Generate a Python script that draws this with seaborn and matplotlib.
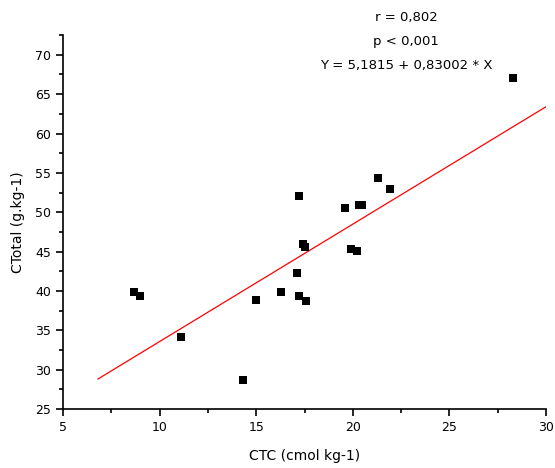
import seaborn as sns
import matplotlib.pyplot as plt
import pandas as pd

# CTC (cmol kg-1) vs CTotal (g.kg-1)
ctc = [8.7, 9.0, 11.1, 14.3, 15.0, 16.3, 17.1, 17.2, 17.2, 17.4, 17.5, 17.6,
       19.6, 19.9, 20.2, 20.3, 20.5, 21.3, 21.9, 28.3]
ctotal = [39.9, 39.3, 34.1, 28.7, 38.9, 39.9, 42.3, 52.0, 39.4, 46.0, 45.6, 38.7,
          50.5, 45.3, 45.1, 50.9, 50.9, 54.4, 53.0, 67.1]

# fitted line as drawn in the figure
fit_x = [6.8, 30.0]
fit_y = [28.8, 63.4]

stats_lines = ["r = 0,802", "p < 0,001", "Y = 5,1815 + 0,83002 * X"]

df = pd.DataFrame({"CTC": ctc, "CTotal": ctotal})
fit = pd.DataFrame({"CTC": fit_x, "CTotal": fit_y})

sns.set_style("ticks")
plt.rcParams["font.family"] = ["DejaVu Sans"]
plt.rcParams.update({"text.color": "black", "axes.labelcolor": "black",
                     "xtick.color": "black", "ytick.color": "black"})

fig = plt.figure(figsize=(5.55, 4.68), dpi=100)
ax = fig.add_axes([0.1135, 0.126, 0.8703, 0.799])

sns.lineplot(data=fit, x="CTC", y="CTotal", color="red", linewidth=0.9, ax=ax)
sns.scatterplot(data=df, x="CTC", y="CTotal", marker="s", color="black",
                s=38, linewidth=0, ax=ax, zorder=3)

ax.set_xlim(5, 30)
ax.set_ylim(25, 72.5)
ax.set_xticks(range(5, 31, 5))
ax.set_yticks(range(25, 71, 5))
ax.set_xticks([7.5, 12.5, 17.5, 22.5, 27.5], minor=True)
ax.set_yticks([27.5, 32.5, 37.5, 42.5, 47.5, 52.5, 57.5, 62.5, 67.5, 72.5], minor=True)
ax.tick_params(which="major", length=5, width=1.2, labelsize=9)
ax.tick_params(which="minor", length=3, width=1.2)
for side in ["left", "bottom"]:
    ax.spines[side].set_linewidth(1.2)
    ax.spines[side].set_color("black")
sns.despine(ax=ax)

ax.set_xlabel("CTC (cmol kg-1)", fontsize=10, labelpad=11)
ax.set_ylabel("CTotal (g.kg-1)", fontsize=10, labelpad=7)

for i, txt in enumerate(stats_lines):
    fig.text(406 / 555, 1 - (18 + 24 * i) / 468, txt, ha="center", va="center",
             fontsize=9.5)

fig.savefig("out.png", dpi=100)
